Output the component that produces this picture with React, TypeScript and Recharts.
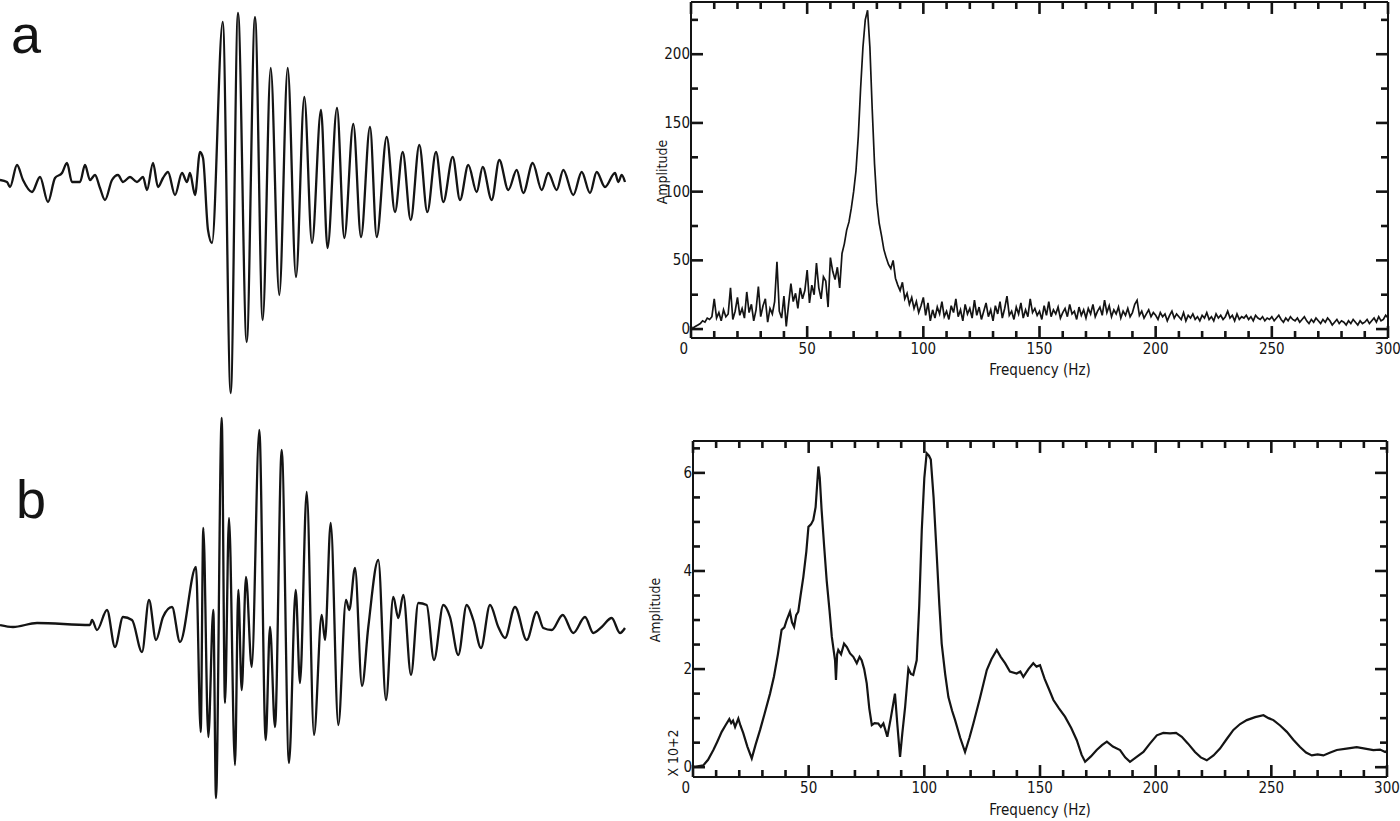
import { LineChart, Line, XAxis, YAxis, ReferenceLine } from "recharts";

// ---- trace (a): time in ms, amplitude in counts (picked at the turning points)
const WAVE_A_T = [
  0, 7, 10, 17, 23, 32, 40, 48, 55, 62, 67, 72, 80, 85, 90, 95, 100, 105, 112, 118,
  123, 130, 137, 143, 147, 153, 158, 163, 168, 175, 182, 187, 190, 195, 200, 203, 208, 212, 222.7, 230.7,
  238, 246.7, 255, 262.7, 270.7, 279.3, 287.7, 296, 304.3, 312, 321, 327.5, 337, 344.3, 353.3, 361, 370, 376.7, 386.7, 395,
  402.7, 410.7, 419.3, 427.3, 436, 443.3, 452.7, 460, 468.3, 476.7, 482.7, 491.7, 499.3, 508.3, 516.7, 523.3, 532.7, 541.7, 548.3, 556.7,
  563.3, 573.3, 581.7, 590, 596.7, 605, 615, 618.3, 621.7, 625,
];
const WAVE_A_AMP = [
  1, -1, -6, 16, 1, -11, 4, -21, 3, 8, 18, -1, -1, 16, 1, 6, -7, -19, 1, 6,
  -1, 4, -1, 4, -9, 18, -6, 3, 9, -14, 8, -1, 8, -14, 29, 23, -49, -62, 159, -212,
  168, -161, 164, -139, 113, -114, 113, -96, 84, -62, 71, -67, 73, -57, 57, -56, 54, -56, 44, -31,
  29, -39, 36, -31, 29, -21, 24, -19, 16, -11, 14, -19, 21, -9, 11, -12, 18, -9, 8, -9,
  11, -14, 9, -12, 9, -6, 8, -1, 6, -1,
];

// ---- trace (b)
const WAVE_B_T = [
  0, 13, 37, 90, 92, 97, 107, 115, 123, 132, 142, 149, 156, 163, 172, 180, 196, 200.7, 203.3, 208.3,
  213.3, 216, 221.7, 225, 229, 235, 238.3, 241.7, 246, 251.7, 259.3, 265.7, 270, 275, 281.7, 289, 295.7, 300, 306.7, 314,
  321.7, 325, 330.7, 338.3, 346, 349.3, 355, 362, 368.3, 378.3, 386, 393.3, 398.3, 403.3, 411, 418.3, 426.7, 434, 443.3, 450,
  458.3, 466.7, 473.3, 481, 490, 498.3, 505, 515, 526.7, 536.7, 543.3, 551.7, 562.7, 573.3, 585, 593.3, 601.7, 611.7, 620, 625,
];
const WAVE_B_AMP = [
  1, -1, 3, 1, 6, -4, 16, -21, 9, 6, -26, 26, -14, 9, 19, -16, 59, -106, 98, -111,
  16, -172, 208, -77, 108, -139, 36, -64, 49, -41, 196, -114, -1, -101, 176, -137, 36, -57, 134, -109,
  11, -14, 103, -99, 26, 16, 58, -60, -1, 66, -74, 29, 8, 31, -49, 23, 21, -34, 21, 9,
  -29, 21, 6, -22, 21, -1, -12, 19, -14, 14, -2, -4, 11, -7, 9, -7, -1, 8, -7, -2,
];

// ---- spectrum (a): 1 Hz bins, 0..300 Hz
const SPEC_A_AMP = [
  0, 1, 2, 3, 4, 6, 5, 8, 7, 9,
  22, 8, 12, 6, 14, 9, 11, 30, 7, 13,
  23, 10, 15, 8, 27, 12, 18, 6, 14, 31,
  9, 17, 22, 5, 15, 11, 20, 49, 13, 8,
  24, 2, 18, 33, 20, 26, 15, 30, 22, 28,
  43, 19, 32, 25, 48, 30, 22, 38, 35, 16,
  52, 42, 36, 45, 30, 55, 62, 72, 78, 88,
  100, 115, 140, 175, 205, 225, 232, 205, 160, 120,
  92, 77, 68, 58, 52, 47, 44, 50, 37, 32,
  28, 34, 22, 26, 18, 23, 15, 20, 12, 17,
  23, 10, 19, 6, 14, 8, 16, 11, 20, 9,
  13, 7, 17, 12, 22, 9, 14, 6, 18, 11,
  15, 8, 21, 10, 16, 7, 13, 19, 9, 14,
  6, 17, 11, 20, 8, 15, 24, 10, 13, 7,
  16, 11, 19, 8, 14, 9, 22, 12, 15, 10,
  13, 7, 17, 10, 20, 9, 14, 11, 16, 8,
  12, 15, 9, 18, 11, 13, 7, 16, 10, 14,
  8, 15, 11, 18, 9, 13, 16, 10, 21, 12,
  17, 9, 14, 11, 16, 8, 13, 10, 15, 9,
  12, 18, 21, 10, 13, 8, 11, 14, 9, 12,
  10, 7, 12, 9, 11, 6, 10, 13, 8, 11,
  9, 7, 12, 6, 10, 8, 11, 7, 9, 6,
  10, 8, 12, 7, 9, 6, 11, 8, 10, 7,
  9, 13, 8, 10, 6, 11, 7, 9, 8, 10,
  7, 9, 6, 10, 8, 7, 9, 6, 8, 7,
  9, 6, 8, 10, 7, 5, 8, 6, 9, 7,
  6, 8, 5, 7, 9, 6, 4, 7, 5, 8,
  6, 4, 7, 5, 8, 6, 3, 5, 7, 4,
  6, 5, 3, 6, 4, 7, 5, 3, 6, 4,
  5, 7, 4, 6, 8, 5, 9, 6, 7, 10,
  8,
];
const SPEC_A_FREQ = SPEC_A_AMP.map((_, i) => i);

// ---- spectrum (b): amplitude x 10^2
const SPEC_B_FREQ = [
  0, 2, 4.5, 6.5, 8.8, 10.5, 12.4, 14, 15.7, 16.5, 17.3, 18.2, 19.6, 20.5, 21.7, 23.5, 25.4, 27, 29, 31,
  33.3, 35, 36.7, 38.3, 39.5, 40.5, 41.9, 42.8, 43.7, 44.6, 45.5, 46.5, 47.7, 49, 49.9, 51, 52, 53, 54.2, 54.8,
  55.6, 56.7, 57.8, 59, 60, 61.4, 61.8, 62.3, 62.8, 64, 65.3, 66.5, 67.9, 69.3, 70.8, 72, 72.9, 74, 75.1, 76.2,
  77.3, 78.5, 80.1, 81.2, 82.3, 83.2, 84, 85.5, 87.3, 88.3, 89.5, 90.5, 91.7, 93.1, 94.2, 95.2, 96.7, 97.8, 98.9, 100,
  101, 102, 102.8, 104, 105.4, 106.5, 107.5, 109, 110.4, 112, 113.3, 115.5, 117.6, 119.5, 121.2, 124, 127, 129, 131.3, 133,
  134.9, 137, 139.9, 141.5, 142.8, 145, 147.1, 148.5, 150, 152, 153.8, 155.8, 158.2, 160.8, 163.5, 165.9, 168, 169.5, 172, 174.5,
  176.8, 178.9, 181.5, 184.6, 186.8, 188.9, 191.5, 194.7, 197.5, 200.5, 203.3, 206.2, 208.8, 211.3, 214, 217, 219.5, 222.1, 225, 227.8,
  230.8, 233.6, 236.5, 239.4, 243, 246.6, 248.8, 250.9, 253.8, 256.7, 259.5, 262.4, 265, 267.5, 270, 272.5, 275.5, 278.3, 282.5, 286.9,
  290.5, 294.1, 297, 299.2, 300,
];
const SPEC_B_AMP = [
  0, 0.02, 0.04, 0.15, 0.35, 0.52, 0.72, 0.85, 0.98, 0.9, 0.95, 0.82, 0.99, 0.85, 0.7, 0.42, 0.18, 0.45, 0.76, 1.1,
  1.5, 1.85, 2.3, 2.8, 2.85, 3.0, 3.17, 2.95, 2.86, 3.1, 3.17, 3.5, 3.88, 4.4, 4.9, 4.95, 5.04, 5.3, 6.13, 5.9,
  5.24, 4.5, 3.8, 3.2, 2.66, 2.18, 1.78, 2.3, 2.39, 2.3, 2.52, 2.45, 2.32, 2.25, 2.12, 2.25, 2.18, 2.0, 1.71, 1.2,
  0.86, 0.9, 0.89, 0.82, 0.89, 0.75, 0.62, 1.0, 1.5, 0.89, 0.21, 0.7, 1.23, 2.01, 1.9, 1.88, 2.18, 3.3, 4.84, 5.9,
  6.4, 6.35, 6.27, 5.5, 4.29, 3.3, 2.52, 1.9, 1.43, 1.15, 0.96, 0.6, 0.31, 0.6, 0.89, 1.4, 1.98, 2.2, 2.39, 2.25,
  2.12, 1.95, 1.91, 1.95, 1.84, 2.0, 2.12, 2.05, 2.08, 1.8, 1.6, 1.37, 1.2, 1.03, 0.8, 0.55, 0.25, 0.11, 0.22, 0.35,
  0.45, 0.52, 0.42, 0.35, 0.2, 0.11, 0.2, 0.31, 0.48, 0.65, 0.7, 0.69, 0.7, 0.62, 0.48, 0.31, 0.2, 0.14, 0.24, 0.38,
  0.58, 0.76, 0.88, 0.96, 1.02, 1.06, 1.0, 0.96, 0.85, 0.72, 0.56, 0.41, 0.3, 0.24, 0.26, 0.24, 0.3, 0.35, 0.38, 0.41,
  0.38, 0.35, 0.36, 0.31, 0.33,
];

const FREQ_TICKS = [0, 10, 20, 30, 40, 50, 60, 70, 80, 90, 100, 110, 120, 130, 140, 150, 160, 170, 180, 190, 200, 210, 220, 230, 240, 250, 260, 270, 280, 290, 300];
const AMP_A_TICKS = [0, 25, 50, 75, 100, 125, 150, 175, 200, 225];
const AMP_B_TICKS = [0, 0.5, 1, 1.5, 2, 2.5, 3, 3.5, 4, 4.5, 5, 5.5, 6, 6.5];

const INK = "#141414";
const NARROW = "'Liberation Sans Narrow', 'DejaVu Sans Condensed', 'Liberation Sans', sans-serif";
const X_DOMAIN: [number, number] = [0, 300];

const zip = (xs: number[], ys: number[]) => xs.map((x, i) => ({ x, y: ys[i] }));

const waveA = zip(WAVE_A_T, WAVE_A_AMP);
const waveB = zip(WAVE_B_T, WAVE_B_AMP);
const specA = zip(SPEC_A_FREQ, SPEC_A_AMP);
const specB = zip(SPEC_B_FREQ, SPEC_B_AMP);

const isMajor = (v: number, major: number) => Math.abs(v / major - Math.round(v / major)) < 1e-6;

// tick labels (left + bottom); the tick marks themselves are reference segments
function makeLabel(side: "bottom" | "left", major: number) {
  return (props: any) => {
    const x = Number(props.x);
    const y = Number(props.y);
    const v = Number(props.payload.value);
    if (!isMajor(v, major)) return <g />;
    const lx = side === "left" ? x - 1 : v === 0 ? x - 3 : x;
    const ly = side === "bottom" ? y + 11 : y;
    const anchor = side === "left" || v === 0 ? "end" : "middle";
    return (
      <text x={lx} y={ly} textAnchor={anchor} dominantBaseline="central" fontFamily={NARROW} fontSize={15} fill={INK}>
        {String(v)}
      </text>
    );
  };
}

function Trace({ data, top, height, domain }: { data: { x: number; y: number }[]; top: number; height: number; domain: [number, number] }) {
  return (
    <div style={{ position: "absolute", left: 0, top }}>
      <LineChart width={640} height={height} data={data} margin={{ top: 0, right: 0, bottom: 0, left: 0 }}>
        <XAxis dataKey="x" type="number" domain={[0, 640]} hide />
        <YAxis type="number" domain={domain} hide allowDataOverflow />
        <Line dataKey="y" type="monotone" stroke={INK} strokeWidth={2.3} dot={false} activeDot={false} isAnimationActive={false} />
      </LineChart>
    </div>
  );
}

function Spectrum({ data, top, height, margin, yDomain, yTicks, yMajor, lineWidth }: {
  data: { x: number; y: number }[];
  top: number;
  height: number;
  margin: { top: number; right: number; bottom: number; left: number };
  yDomain: [number, number];
  yTicks: number[];
  yMajor: number;
  lineWidth: number;
}) {
  const width = 760;
  const plotW = width - margin.left - margin.right;
  const plotH = height - margin.top - margin.bottom;
  // tick lengths in px, turned into data units for the segments
  const yUnit = (px: number) => (px * (yDomain[1] - yDomain[0])) / plotH;
  const xUnit = (px: number) => (px * (X_DOMAIN[1] - X_DOMAIN[0])) / plotW;
  const [y0, y1] = yDomain;
  const [x0, x1] = X_DOMAIN;
  const frame = { stroke: INK, strokeWidth: 2, ifOverflow: "visible" as const, xAxisId: "b", yAxisId: "l" };
  const seg = { ...frame, strokeWidth: 2.6 };

  const marks: JSX.Element[] = [];
  FREQ_TICKS.forEach((f) => {
    const l = yUnit(isMajor(f, 50) ? 12 : 7);
    marks.push(<ReferenceLine key={`xb${f}`} {...seg} segment={[{ x: f, y: y0 }, { x: f, y: y0 + l }]} />);
    marks.push(<ReferenceLine key={`xt${f}`} {...seg} segment={[{ x: f, y: y1 }, { x: f, y: y1 - l }]} />);
  });
  yTicks.forEach((v) => {
    const l = xUnit(isMajor(v, yMajor) ? 12 : 7);
    marks.push(<ReferenceLine key={`yl${v}`} {...seg} segment={[{ x: x0, y: v }, { x: x0 + l, y: v }]} />);
    marks.push(<ReferenceLine key={`yr${v}`} {...seg} segment={[{ x: x1, y: v }, { x: x1 - l, y: v }]} />);
  });

  return (
    <div style={{ position: "absolute", left: 640, top }}>
      <LineChart width={width} height={height} data={data} margin={margin}>
        <XAxis xAxisId="b" dataKey="x" type="number" domain={X_DOMAIN} ticks={FREQ_TICKS} interval={0} height={1}
          tickSize={0} tickMargin={0} tickLine={false} axisLine={{ stroke: INK, strokeWidth: 2 }} tick={makeLabel("bottom", 50)} />
        <YAxis yAxisId="l" type="number" domain={yDomain} ticks={yTicks} interval={0} allowDataOverflow width={1}
          tickSize={0} tickMargin={0} tickLine={false} axisLine={{ stroke: INK, strokeWidth: 2 }} tick={makeLabel("left", yMajor)} />
        <ReferenceLine {...frame} segment={[{ x: x0, y: y1 }, { x: x1, y: y1 }]} />
        <ReferenceLine {...frame} segment={[{ x: x1, y: y0 }, { x: x1, y: y1 }]} />
        {marks}
        <Line xAxisId="b" yAxisId="l" dataKey="y" type="linear" stroke={INK} strokeWidth={lineWidth} dot={false} activeDot={false} isAnimationActive={false} />
      </LineChart>
    </div>
  );
}

export default function App() {
  const label = { fontFamily: NARROW, fill: INK };
  return (
    <div style={{ position: "absolute", left: 0, top: 0, width: 1400, height: 821, background: "#fff", overflow: "hidden" }}>
      <Trace data={waveA} top={0} height={410} domain={[-229, 181]} />
      <Trace data={waveB} top={400} height={421} domain={[-195, 226]} />
      <Spectrum data={specA} top={0} height={400} margin={{ top: 2, right: 12, bottom: 61, left: 50 }}
        yDomain={[-6.5, 238]} yTicks={AMP_A_TICKS} yMajor={50} lineWidth={1.7} />
      <Spectrum data={specB} top={420} height={401} margin={{ top: 21, right: 13, bottom: 43, left: 52 }}
        yDomain={[-0.2, 6.65]} yTicks={AMP_B_TICKS} yMajor={2} lineWidth={2.2} />
      <svg width={1400} height={821} style={{ position: "absolute", left: 0, top: 0, pointerEvents: "none" }}>
        <text x={11} y={53} fontFamily="'Liberation Sans', Arial, sans-serif" fontSize={54} fill={INK}>a</text>
        <text x={16} y={518} fontFamily="'Liberation Sans', Arial, sans-serif" fontSize={54} fill={INK}>b</text>
        <text x={1040} y={370} textAnchor="middle" dominantBaseline="central" fontSize={15} {...label}>Frequency (Hz)</text>
        <text x={1040} y={810} textAnchor="middle" dominantBaseline="central" fontSize={15} {...label}>Frequency (Hz)</text>
        <text transform="translate(662,172) rotate(-90)" textAnchor="middle" dominantBaseline="central" fontSize={14} {...label}>Amplitude</text>
        <text transform="translate(655,610) rotate(-90)" textAnchor="middle" dominantBaseline="central" fontSize={14} {...label}>Amplitude</text>
        <text transform="translate(673,753) rotate(-90)" textAnchor="middle" dominantBaseline="central" fontSize={14} {...label}>X 10+2</text>
      </svg>
    </div>
  );
}
